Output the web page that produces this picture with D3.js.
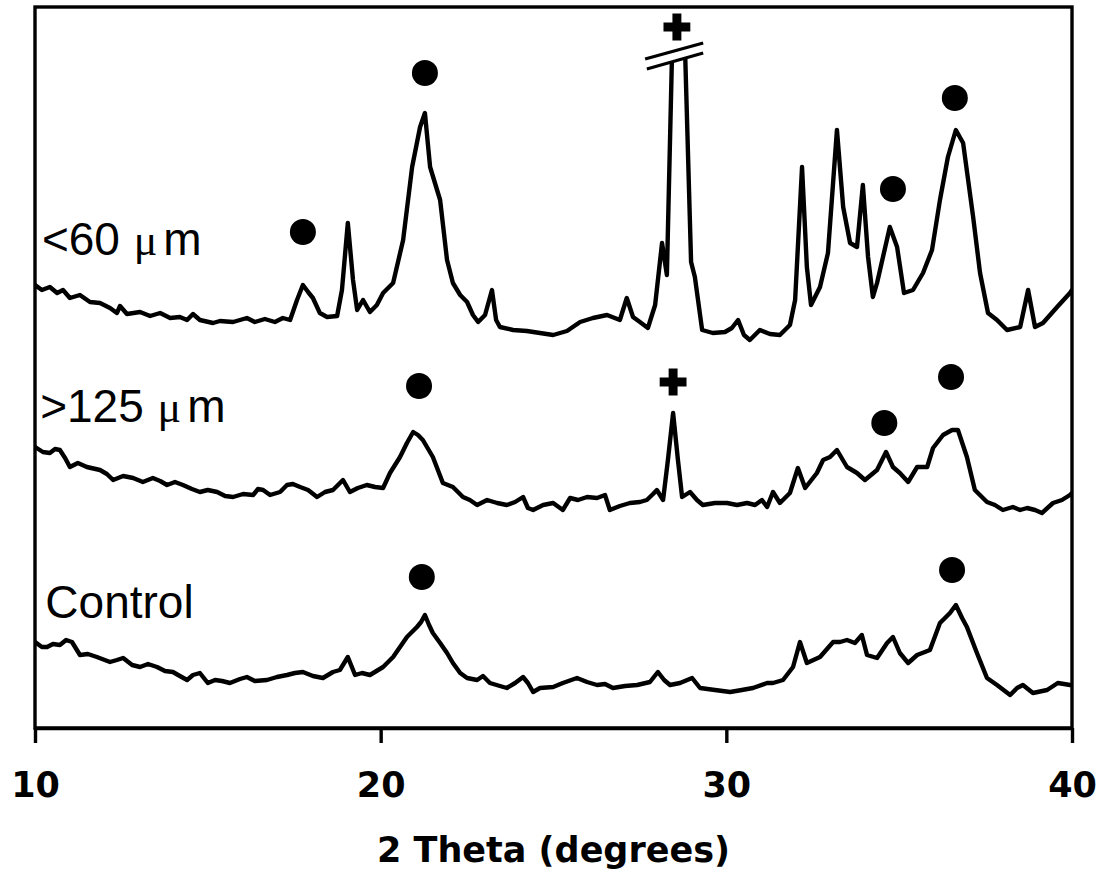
<!DOCTYPE html>
<head>
  <meta charset="utf-8">
  <script src="https://d3js.org/d3.v7.min.js"></script>
  <style>
    body { margin:0; background:#fff; }
    .lbl { font-family:"Liberation Sans", Arial, sans-serif; font-size:46px; fill:#000; }
    .mu { font-family:"Liberation Serif", serif; font-size:44px; }
    .axis text { font-family:"DejaVu Sans", Verdana, sans-serif; font-weight:bold; font-size:35px; fill:#000; }
  </style>
</head>

<body>
<script>
  // 2 theta (degrees), intensity (a.u., series already offset)
  var fine60 = [
    [10.00,443],[10.20,438],[10.43,441],[10.64,435],[10.81,438],[11.01,430],[11.30,433],[11.59,426],
    [11.88,425],[12.17,420],[12.37,415],[12.46,422],[12.66,414],[13.04,416],[13.33,412],[13.62,415],
    [13.91,410],[14.19,411],[14.40,408],[14.57,414],[14.77,408],[15.15,405],[15.35,407],[15.73,406],
    [16.13,410],[16.36,406],[16.65,409],[16.94,406],[17.17,410],[17.38,408],[17.58,428],[17.75,443],
    [17.90,436],[18.04,430],[18.24,415],[18.45,411],[18.74,412],[18.88,438],[19.05,505],[19.20,448],
    [19.32,418],[19.49,428],[19.69,416],[19.89,423],[20.07,435],[20.36,445],[20.65,488],[20.91,561],
    [21.14,601],[21.28,615],[21.43,561],[21.72,528],[21.92,468],[22.09,445],[22.30,433],[22.50,426],
    [22.67,413],[22.82,406],[23.02,413],[23.22,438],[23.34,408],[23.45,401],[23.83,398],[24.23,397],
    [24.61,395],[24.99,393],[25.39,397],[25.77,406],[26.14,410],[26.55,413],[26.92,408],[27.12,430],
    [27.30,411],[27.50,406],[27.73,400],[27.94,423],[28.14,485],[28.28,453],[28.60,928],[28.98,466],
    [29.09,451],[29.30,398],[29.61,395],[29.96,396],[30.16,400],[30.34,408],[30.51,393],[30.68,388],
    [30.97,398],[31.26,394],[31.55,393],[31.84,403],[31.99,428],[32.19,561],[32.33,461],[32.45,423],
    [32.71,441],[32.94,475],[33.20,598],[33.38,521],[33.58,485],[33.78,481],[33.95,543],[34.10,471],
    [34.24,431],[34.36,445],[34.73,501],[34.94,481],[35.14,435],[35.40,438],[35.69,455],[35.95,478],
    [36.18,528],[36.41,571],[36.64,598],[36.85,585],[37.14,511],[37.34,455],[37.57,415],[37.83,408],
    [38.12,398],[38.50,401],[38.73,438],[38.93,401],[39.16,405],[39.57,421],[39.94,435],[40.00,438]
  ];
  var coarse125 = [
    [10.00,281],[10.23,276],[10.43,275],[10.58,279],[10.72,278],[10.87,270],[11.01,261],[11.24,265],
    [11.50,261],[11.88,258],[12.08,254],[12.26,248],[12.55,252],[12.84,250],[13.12,246],[13.41,250],
    [13.62,247],[13.82,243],[14.05,246],[14.28,243],[14.54,239],[14.77,236],[15.00,238],[15.27,236],
    [15.50,232],[15.73,231],[16.02,234],[16.31,233],[16.45,239],[16.60,238],[16.80,233],[17.09,236],
    [17.29,243],[17.46,244],[17.67,241],[17.90,238],[18.16,231],[18.39,236],[18.62,238],[18.91,248],
    [19.11,236],[19.34,240],[19.60,243],[19.84,241],[20.07,240],[20.27,255],[20.56,271],[20.76,285],
    [20.94,296],[21.08,293],[21.22,288],[21.51,271],[21.80,245],[22.09,241],[22.38,231],[22.58,228],
    [22.79,223],[23.08,228],[23.37,225],[23.65,223],[23.89,226],[24.12,231],[24.26,220],[24.41,218],
    [24.70,223],[24.99,225],[25.27,218],[25.48,230],[25.71,228],[25.97,231],[26.26,230],[26.49,233],
    [26.63,218],[26.92,222],[27.21,225],[27.50,226],[27.70,228],[27.88,234],[27.99,238],[28.17,228],
    [28.31,268],[28.46,315],[28.60,268],[28.72,231],[28.95,236],[29.15,228],[29.32,223],[29.67,225],
    [30.02,225],[30.31,223],[30.60,225],[30.83,223],[31.03,228],[31.18,221],[31.35,236],[31.55,225],
    [31.84,235],[32.07,260],[32.28,240],[32.62,255],[32.80,268],[33.00,271],[33.20,278],[33.49,261],
    [33.78,255],[34.01,248],[34.36,258],[34.62,276],[34.82,261],[35.02,255],[35.26,246],[35.52,261],
    [35.81,261],[35.98,280],[36.27,293],[36.53,298],[36.70,298],[36.96,271],[37.19,238],[37.54,226],
    [37.77,223],[38.00,218],[38.29,221],[38.50,218],[38.70,220],[38.93,218],[39.13,215],[39.45,225],
    [39.71,228],[39.94,233],[40.00,235]
  ];
  var control = [
    [10.00,86],[10.20,81],[10.35,81],[10.52,84],[10.72,83],[10.90,88],[11.07,86],[11.30,73],
    [11.53,74],[11.79,71],[12.17,66],[12.37,68],[12.55,70],[12.81,63],[13.04,61],[13.27,64],
    [13.53,61],[13.76,57],[13.99,56],[14.19,52],[14.40,48],[14.57,53],[14.77,55],[15.00,45],
    [15.21,48],[15.41,47],[15.64,45],[15.93,49],[16.13,51],[16.36,47],[16.71,48],[17.00,51],
    [17.29,53],[17.52,55],[17.75,56],[18.04,52],[18.33,50],[18.62,56],[18.82,58],[19.05,71],
    [19.26,53],[19.46,55],[19.69,53],[20.07,61],[20.36,71],[20.76,91],[21.05,101],[21.17,106],
    [21.28,113],[21.40,103],[21.51,95],[21.72,85],[21.92,75],[22.09,65],[22.30,55],[22.50,50],
    [22.79,48],[22.96,52],[23.16,45],[23.45,42],[23.65,40],[23.89,45],[24.12,51],[24.26,45],
    [24.41,36],[24.61,40],[24.99,41],[25.27,45],[25.68,50],[25.97,46],[26.26,43],[26.49,44],
    [26.72,40],[27.07,42],[27.42,43],[27.79,46],[28.02,56],[28.20,48],[28.37,43],[28.66,45],
    [29.01,50],[29.24,40],[29.67,38],[30.11,36],[30.45,38],[30.77,40],[31.18,45],[31.35,45],
    [31.64,48],[31.93,61],[32.13,86],[32.33,65],[32.71,71],[33.09,86],[33.29,86],[33.49,88],
    [33.72,85],[33.92,93],[34.07,73],[34.36,70],[34.65,85],[34.82,91],[35.02,75],[35.26,65],
    [35.52,73],[35.89,78],[36.18,105],[36.47,115],[36.64,123],[36.82,110],[36.96,101],[37.25,75],
    [37.54,50],[37.83,43],[38.21,33],[38.41,40],[38.58,43],[38.87,35],[39.28,38],[39.59,45],
    [39.77,44],[39.94,43],[40.00,43]
  ];

  var seriesLabels = ["<60 ", ">125 ", "Control"];
  var labelAt = [[10.2, 473], [10.15, 306], [10.3, 110]];   // label anchor (2θ, intensity)

  // peak markers: ● = circle, ✚ = cross
  var circleMarks = [[17.75,496],[21.28,655],[34.82,539],[36.61,630],
                     [21.11,342],[34.57,305],[36.50,351],
                     [21.19,151],[36.53,158]];
  var crossMarks = [[28.57,701],[28.46,346]];

  // axis break on the off-scale peak
  var breakLines = [[[27.65,669],[29.33,685]], [[27.70,659],[29.33,675]]];

  var xTicks = [10, 20, 30, 40];

  var margin = {top: 7, right: 32, bottom: 145, left: 35},
      width = 1104 - margin.left - margin.right,
      height = 873 - margin.top - margin.bottom;

  var svg = d3.select("body").append("svg")
      .attr("width", 1104)
      .attr("height", 873)
    .append("g")
      .attr("transform", "translate(" + margin.left + "," + margin.top + ")");

  var x = d3.scaleLinear().domain([10, 40]).range([0, width]);
  var y = d3.scaleLinear().domain([0, 721]).range([height, 0]);

  // clip: whole plot except the area above the lower break line
  var lb = breakLines[1];
  var clipPts = [[x(10), 0], [x(lb[0][0]), 0], [x(lb[0][0]), y(lb[0][1])],
                 [x(lb[1][0]), y(lb[1][1])], [x(lb[1][0]), 0], [width, 0],
                 [width, height], [0, height]];
  svg.append("clipPath").attr("id", "plotclip")
    .append("polygon")
      .attr("points", clipPts.map(function(p) { return p.join(","); }).join(" "));

  var line = d3.line()
      .x(function(d) { return x(d[0]); })
      .y(function(d) { return y(d[1]); });

  svg.append("g").attr("clip-path", "url(#plotclip)")
    .selectAll("path")
    .data([fine60, coarse125, control])
    .enter().append("path")
      .attr("d", line)
      .attr("fill", "none")
      .attr("stroke", "#000")
      .attr("stroke-width", 4.4)
      .attr("stroke-linejoin", "round")
      .attr("stroke-linecap", "round");

  svg.selectAll("line.brk")
    .data(breakLines)
    .enter().append("line")
      .attr("class", "brk")
      .attr("x1", function(d) { return x(d[0][0]); })
      .attr("y1", function(d) { return y(d[0][1]); })
      .attr("x2", function(d) { return x(d[1][0]); })
      .attr("y2", function(d) { return y(d[1][1]); })
      .attr("stroke", "#000")
      .attr("stroke-width", 3.2);

  svg.selectAll("circle.mk")
    .data(circleMarks)
    .enter().append("circle")
      .attr("class", "mk")
      .attr("cx", function(d) { return x(d[0]); })
      .attr("cy", function(d) { return y(d[1]); })
      .attr("r", 13)
      .attr("fill", "#000");

  svg.selectAll("path.cross")
    .data(crossMarks)
    .enter().append("path")
      .attr("class", "cross")
      .attr("transform", function(d) { return "translate(" + x(d[0]) + "," + y(d[1]) + ")"; })
      .attr("d", d3.symbol().type(d3.symbolCross).size(400))
      .attr("fill", "#000");

  // series labels
  var lbl = svg.selectAll("text.lbl")
    .data(seriesLabels)
    .enter().append("text")
      .attr("class", "lbl")
      .attr("x", function(d, i) { return x(labelAt[i][0]); })
      .attr("y", function(d, i) { return y(labelAt[i][1]); })
      .text(function(d) { return d; });
  lbl.filter(function(d, i) { return i < 2; })
    .append("tspan").attr("class", "mu").attr("dx", 1).text("\u03bc");
  lbl.filter(function(d, i) { return i < 2; })
    .append("tspan").attr("dx", 6).text("m");

  // frame
  svg.append("rect")
    .attr("width", width)
    .attr("height", height)
    .attr("fill", "none")
    .attr("stroke", "#000")
    .attr("stroke-width", 3.4);

  // x axis
  var xAxis = svg.append("g")
    .attr("class", "axis")
    .attr("transform", "translate(0," + height + ")")
    .call(d3.axisBottom(x).tickValues(xTicks).tickSize(15).tickSizeOuter(0));
  xAxis.select(".domain").attr("stroke-width", 3.4);
  xAxis.selectAll(".tick line").attr("stroke-width", 3.4);
  xAxis.selectAll(".tick text").attr("y", 69).attr("dy", 0);

  svg.append("text")
    .attr("class", "axis")
    .attr("x", width / 2)
    .attr("y", height + 134)
    .attr("text-anchor", "middle")
    .style("font-family", "'DejaVu Sans', Verdana, sans-serif")
    .style("font-weight", "bold")
    .style("font-size", "35px")
    .text("2 Theta (degrees)");
</script>
</body>
